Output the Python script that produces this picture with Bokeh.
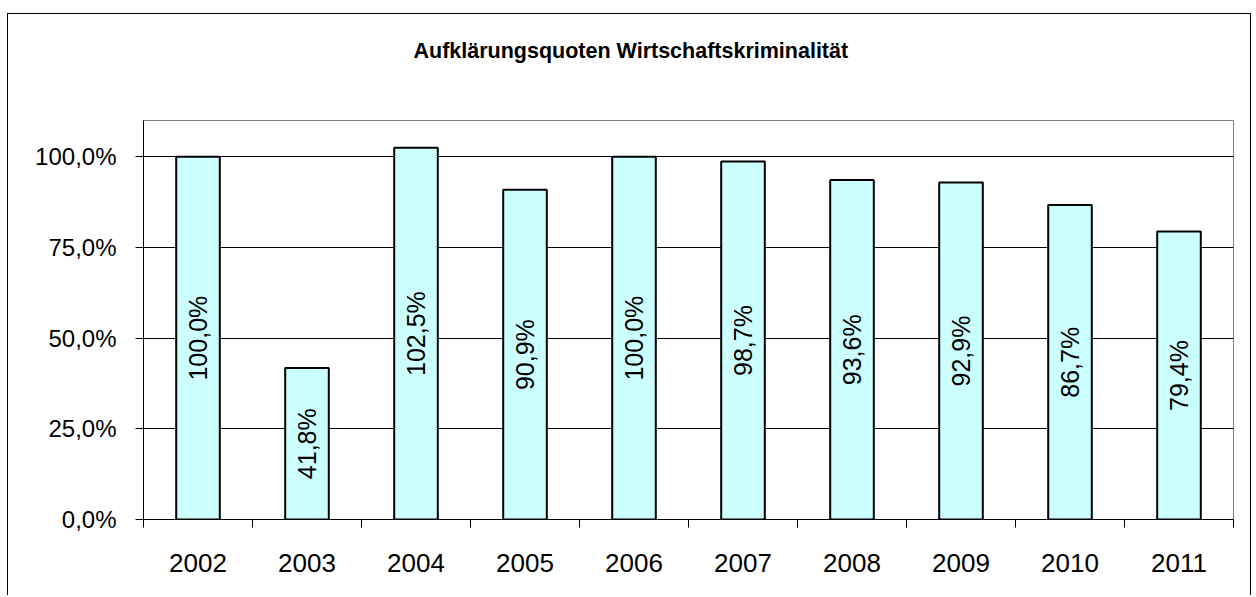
from bokeh.plotting import figure
from bokeh.models import Range1d, ColumnDataSource, FixedTicker
from bokeh.core.properties import value
from bokeh.embed import file_html
from bokeh.resources import INLINE
import math

# ---- data ----
years = ["2002", "2003", "2004", "2005", "2006", "2007", "2008", "2009", "2010", "2011"]
rates = [100.0, 41.8, 102.5, 90.9, 100.0, 98.7, 93.6, 92.9, 86.7, 79.4]
y_ticks = [0.0, 0.25, 0.5, 0.75, 1.0]
y_tick_labels = ["0,0%", "25,0%", "50,0%", "75,0%", "100,0%"]
title_text = "Aufklärungsquoten Wirtschaftskriminalität"

FONT = "Liberation Sans"

n = len(years)
centers = [i + 0.5 for i in range(n)]        # category slot centres
bounds = [i for i in range(n + 1)]            # category slot boundaries
fracs = [r / 100.0 for r in rates]
labels = [("%.1f" % r).replace(".", ",") + "%" for r in rates]
src = ColumnDataSource(dict(x=centers, top=fracs, mid=[f / 2 for f in fracs], label=labels))

p = figure(width=1244, height=582,
           x_range=Range1d(0, n),
           y_range=Range1d(0, 1.1),
           output_backend="svg", toolbar_location=None,
           min_border_left=135, min_border_right=19,
           min_border_top=106, min_border_bottom=77)

p.styles = {"border-top": "1px solid black", "border-left": "1px solid black",
            "border-right": "1px solid black",
            "margin-top": "13px", "margin-left": "7px"}

p.background_fill_color = "white"
p.border_fill_color = "white"
p.outline_line_color = "#808080"
p.outline_line_width = 1

# title
p.title.text = title_text
p.title.text_font = FONT
p.title.text_font_size = "21.5px"
p.title.text_font_style = "bold"
p.title.text_color = "black"
p.title.align = "left"
p.title.vertical_align = "bottom"
p.title.offset = 270
try:
    p.title.padding = dict(left=0, right=0, top=0, bottom=50)
    p.title.standoff = 16
except Exception:
    p.title.standoff = 80

# grid
p.xgrid.grid_line_color = None
p.ygrid.grid_line_color = "black"
p.ygrid.grid_line_width = 1
p.ygrid.ticker = FixedTicker(ticks=y_ticks[1:])

# y axis
yax = p.yaxis[0]
yax.ticker = FixedTicker(ticks=y_ticks)
yax.major_label_overrides = {t: l for t, l in zip(y_ticks, y_tick_labels)}
yax.major_label_text_font = FONT
yax.major_label_text_font_size = "24px"
yax.major_label_text_color = "black"
yax.major_label_standoff = 19
yax.major_tick_in = 0
yax.major_tick_out = 8
yax.minor_tick_line_color = None
yax.axis_line_color = "black"
yax.major_tick_line_color = "black"

# x axis: labels at slot centres, tick marks at slot boundaries
xax = p.xaxis[0]
xax.ticker = FixedTicker(ticks=centers, minor_ticks=bounds)
xax.major_label_overrides = {c: y for c, y in zip(centers, years)}
xax.major_label_text_font = FONT
xax.major_label_text_font_size = "26px"
xax.major_label_text_color = "black"
xax.major_label_standoff = 26
xax.major_tick_line_color = None
xax.major_tick_in = 0
xax.major_tick_out = 0
xax.minor_tick_line_color = "black"
xax.minor_tick_in = 0
xax.minor_tick_out = 8
xax.axis_line_color = "black"

# bars
p.vbar(x="x", top="top", bottom=0, width=0.4, source=src,
       fill_color="#CCFFFF", line_color="black", line_width=2)

# labels inside bars
p.text(x="x", y="mid", text="label", source=src, angle=math.pi / 2,
       text_font=value(FONT), text_font_size="25px", text_color="black",
       text_align="center", text_baseline="middle")

open("out.html", "w").write(file_html(p, INLINE))
